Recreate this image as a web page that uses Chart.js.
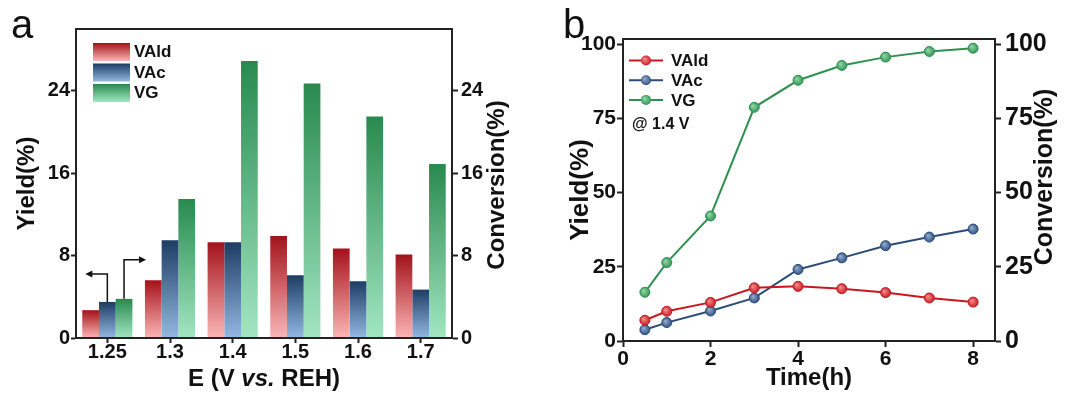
<!DOCTYPE html>
<html>
<head>
<meta charset="utf-8">
<script src="https://cdn.jsdelivr.net/npm/chart.js@4.4.0/dist/chart.umd.min.js"></script>
<style>
  body { margin: 0; background: #fff; width: 1065px; height: 396px; overflow: hidden; position: relative; }
  canvas { position: absolute; top: 0; }
  #chartA { left: 0; }
  #chartB { left: 535px; }
</style>
</head>
<body>
<canvas id="chartA" width="535" height="396"></canvas>
<canvas id="chartB" width="530" height="396"></canvas>
<script>
// panel a: potentials
var potentials = ['1.25', '1.3', '1.4', '1.5', '1.6', '1.7'];
var valdYield = [2.7, 5.6, 9.3, 9.9, 8.7, 8.1];
var vacYield = [3.5, 9.5, 9.3, 6.1, 5.5, 4.7];
var vgConversion = [3.8, 13.5, 26.9, 24.7, 21.5, 16.9];
var ticksA = [0, 8, 16, 24];

// panel b: time course at 1.4 V
var hours = [0.5, 1, 2, 3, 4, 5, 6, 7, 8];
var valdTime = [7.0, 10.0, 13.0, 17.9, 18.4, 17.6, 16.3, 14.5, 13.1];
var vacTime = [3.8, 6.2, 10.1, 14.5, 24.1, 28.0, 32.1, 35.0, 37.7];
var vgTime = [16.4, 26.4, 42.1, 78.7, 87.8, 92.8, 95.6, 97.5, 98.6];
var timeTicks = [0, 2, 4, 6, 8];
var ticksB = [0, 25, 50, 75, 100];

var FONT = "'Liberation Sans', Arial, sans-serif";
Chart.defaults.font.family = FONT;
Chart.defaults.color = '#111';

var red = { top: '#a3121a', bottom: '#fcb6b6', line: '#c8171f', light: '#f08a8a' };
var blue = { top: '#1d3d63', bottom: '#93b8e2', line: '#2b4c78', light: '#8fa9cc' };
var green = { top: '#288a4e', bottom: '#a2e6c2', line: '#2f9150', light: '#8fd4a6' };

function barGradient(col) {
  return function (c) {
    var chart = c.chart;
    if (!chart.chartArea || c.raw === undefined) return col.top;
    var sc = chart.scales[c.dataset.yAxisID];
    var g = chart.ctx.createLinearGradient(0, sc.getPixelForValue(c.raw), 0, sc.getPixelForValue(0));
    g.addColorStop(0, col.top);
    g.addColorStop(1, col.bottom);
    return g;
  };
}

function ball(col) {
  return function (c) {
    var chart = c.chart;
    if (!chart.chartArea || !c.parsed) return col.line;
    var x = chart.scales.x.getPixelForValue(c.parsed.x);
    var y = chart.scales[c.dataset.yAxisID].getPixelForValue(c.parsed.y);
    var g = chart.ctx.createRadialGradient(x - 1.5, y - 1.5, 0.5, x, y, 5.5);
    g.addColorStop(0, col.light);
    g.addColorStop(1, col.line);
    return g;
  };
}

function fixW(w) { return function (s) { s.width = w; }; }
function fixH(h) { return function (s) { s.height = h; }; }
function setTicks(arr) { return function (s) { s.ticks = arr.map(function (v) { return { value: v }; }); }; }

function gridOpts(len) {
  return { drawOnChartArea: false, drawTicks: true, tickLength: len, tickColor: '#222', tickWidth: 2 };
}
var border = { color: '#222', width: 2 };

function vText(ctx, txt, x, y, size) {
  ctx.save();
  ctx.translate(x, y);
  ctx.rotate(-Math.PI / 2);
  ctx.font = 'bold ' + size + 'px ' + FONT;
  ctx.textAlign = 'center';
  ctx.textBaseline = 'middle';
  ctx.fillText(txt, 0, 0);
  ctx.restore();
}

var frame = {
  id: 'frame',
  afterDraw: function (chart) {
    var a = chart.chartArea, ctx = chart.ctx;
    ctx.save();
    ctx.strokeStyle = '#222';
    ctx.lineWidth = 2;
    ctx.strokeRect(a.left, a.top, a.right - a.left, a.bottom - a.top);
    ctx.restore();
  }
};

// decorations of panel a: label, x title, right title, legend, arrows
var decoA = {
  id: 'decoA',
  afterDraw: function (chart) {
    var ctx = chart.ctx, a = chart.chartArea;
    ctx.save();
    ctx.fillStyle = '#111';
    ctx.font = '40px ' + FONT;
    ctx.textBaseline = 'alphabetic';
    ctx.fillText('a', 11, 38);

    // x title with italic "vs."
    var parts = [['E (V ', 'bold'], ['vs.', 'italic bold'], [' REH)', 'bold']];
    var w = 0;
    parts.forEach(function (p) { ctx.font = p[1] + ' 24px ' + FONT; p.push(ctx.measureText(p[0]).width); w += p[2]; });
    var x = (a.left + a.right) / 2 - w / 2;
    ctx.textBaseline = 'middle';
    parts.forEach(function (p) { ctx.font = p[1] + ' 24px ' + FONT; ctx.fillText(p[0], x, 379); x += p[2]; });

    vText(ctx, 'Conversion(%)', 497, 185, 24);

    // legend
    var cols = [red, blue, green], names = ['VAld', 'VAc', 'VG'];
    for (var i = 0; i < 3; i++) {
      var ty = 43 + i * 20.5;
      var g = ctx.createLinearGradient(0, ty, 0, ty + 18);
      g.addColorStop(0, cols[i].top);
      g.addColorStop(1, cols[i].bottom);
      ctx.fillStyle = g;
      ctx.fillRect(93, ty, 37, 18);
      ctx.fillStyle = '#111';
      ctx.font = 'bold 17px ' + FONT;
      ctx.textBaseline = 'middle';
      ctx.fillText(names[i], 134, ty + 9.5);
    }

    // arrows pointing at the axes
    var b1 = chart.getDatasetMeta(1).data[0], b2 = chart.getDatasetMeta(2).data[0];
    ctx.strokeStyle = '#111';
    ctx.fillStyle = '#111';
    ctx.lineWidth = 1.5;
    var ly = b1.y - 28, ry = b2.y - 39;
    ctx.beginPath();
    ctx.moveTo(b1.x, b1.y); ctx.lineTo(b1.x, ly); ctx.lineTo(b1.x - 16, ly);
    ctx.moveTo(b2.x, b2.y); ctx.lineTo(b2.x, ry); ctx.lineTo(b2.x + 16, ry);
    ctx.stroke();
    ctx.beginPath();
    ctx.moveTo(b1.x - 22, ly); ctx.lineTo(b1.x - 15, ly - 3.5); ctx.lineTo(b1.x - 15, ly + 3.5); ctx.closePath();
    ctx.moveTo(b2.x + 22, ry); ctx.lineTo(b2.x + 15, ry - 3.5); ctx.lineTo(b2.x + 15, ry + 3.5); ctx.closePath();
    ctx.fill();
    ctx.restore();
  }
};

new Chart(document.getElementById('chartA'), {
  type: 'bar',
  data: {
    labels: potentials,
    datasets: [
      { label: 'VAld', data: valdYield, yAxisID: 'y', backgroundColor: barGradient(red) },
      { label: 'VAc', data: vacYield, yAxisID: 'y', backgroundColor: barGradient(blue) },
      { label: 'VG', data: vgConversion, yAxisID: 'y2', backgroundColor: barGradient(green) }
    ]
  },
  options: {
    responsive: false,
    animation: false,
    layout: { padding: { top: 29, left: 0, right: 0, bottom: 0 } },
    datasets: { bar: { categoryPercentage: 0.8, barPercentage: 1, borderWidth: 0 } },
    plugins: { legend: { display: false }, tooltip: { enabled: false } },
    scales: {
      x: {
        grid: Object.assign(gridOpts(5), { offset: false }),
        border: border,
        ticks: { font: { size: 20, weight: 'bold', lineHeight: 1 }, color: '#111', padding: -1 },
        afterFit: fixH(58)
      },
      y: {
        position: 'left', min: 0, max: 30,
        grid: gridOpts(5), border: border,
        afterBuildTicks: setTicks(ticksA),
        ticks: { font: { size: 20, weight: 'bold' }, color: '#111', padding: 1 },
        title: { display: true, text: 'Yield(%)', font: { size: 24, weight: 'bold', lineHeight: 1 }, color: '#111', padding: { top: 15, bottom: 0 } },
        afterFit: fixW(76)
      },
      y2: {
        position: 'right', min: 0, max: 30,
        grid: gridOpts(6), border: border,
        afterBuildTicks: setTicks(ticksA),
        ticks: { font: { size: 20, weight: 'bold' }, color: '#111', padding: 3 },
        afterFit: fixW(83)
      }
    }
  },
  plugins: [frame, decoA]
});

function points(ys) { return hours.map(function (h, i) { return { x: h, y: ys[i] }; }); }

function lineSet(label, ys, col, axis) {
  return {
    label: label, data: points(ys), yAxisID: axis,
    borderColor: col.line, borderWidth: 2,
    pointRadius: 5, pointBorderWidth: 1, pointBorderColor: col.line,
    pointBackgroundColor: ball(col)
  };
}

var decoB = {
  id: 'decoB',
  afterDraw: function (chart) {
    var ctx = chart.ctx;
    ctx.save();
    ctx.fillStyle = '#111';
    ctx.font = '40px ' + FONT;
    ctx.textBaseline = 'alphabetic';
    ctx.fillText('b', 28, 38);

    vText(ctx, 'Conversion(%)', 510, 177, 25);

    var cols = [red, blue, green], names = ['VAld', 'VAc', 'VG'];
    for (var i = 0; i < 3; i++) {
      var y = 60.5 + i * 19.7;
      ctx.strokeStyle = cols[i].line;
      ctx.lineWidth = 2;
      ctx.beginPath(); ctx.moveTo(94, y); ctx.lineTo(128, y); ctx.stroke();
      var g = ctx.createRadialGradient(109.5, y - 1.5, 0.5, 111, y, 5.5);
      g.addColorStop(0, cols[i].light);
      g.addColorStop(1, cols[i].line);
      ctx.fillStyle = g;
      ctx.beginPath(); ctx.arc(111, y, 5, 0, Math.PI * 2); ctx.fill();
      ctx.fillStyle = '#111';
      ctx.font = 'bold 17px ' + FONT;
      ctx.textBaseline = 'middle';
      ctx.fillText(names[i], 136, y + 1);
    }
    ctx.font = 'bold 16px ' + FONT;
    ctx.fillText('@ 1.4 V', 97, 125);
    ctx.restore();
  }
};

new Chart(document.getElementById('chartB'), {
  type: 'line',
  data: {
    datasets: [
      lineSet('VAld', valdTime, red, 'y'),
      lineSet('VAc', vacTime, blue, 'y'),
      lineSet('VG', vgTime, green, 'y2')
    ]
  },
  options: {
    responsive: false,
    animation: false,
    layout: { padding: { top: 39, left: 0, right: 0, bottom: 0 } },
    plugins: { legend: { display: false }, tooltip: { enabled: false } },
    scales: {
      x: {
        type: 'linear', min: 0, max: 8.5,
        grid: gridOpts(6), border: border,
        afterBuildTicks: setTicks(timeTicks),
        ticks: { font: { size: 21, weight: 'bold', lineHeight: 1 }, color: '#111', padding: 2 },
        title: { display: true, text: 'Time(h)', font: { size: 24, weight: 'bold', lineHeight: 1 }, color: '#111', padding: { top: 0, bottom: 6 } },
        afterFit: fixH(55)
      },
      y: {
        position: 'left', min: 0, max: 101.7,
        grid: gridOpts(6), border: border,
        afterBuildTicks: setTicks(ticksB),
        ticks: { font: { size: 21, weight: 'bold' }, color: '#111', padding: 1 },
        title: { display: true, text: 'Yield(%)', font: { size: 26, weight: 'bold', lineHeight: 1 }, color: '#111', padding: { top: 33, bottom: 0 } },
        afterFit: fixW(88)
      },
      y2: {
        position: 'right', min: 0, max: 101.7,
        grid: gridOpts(6), border: border,
        afterBuildTicks: setTicks(ticksB),
        ticks: { font: { size: 25, weight: 'bold' }, color: '#111', padding: 4 },
        afterFit: fixW(70)
      }
    }
  },
  plugins: [frame, decoB]
});
</script>
</body>
</html>
